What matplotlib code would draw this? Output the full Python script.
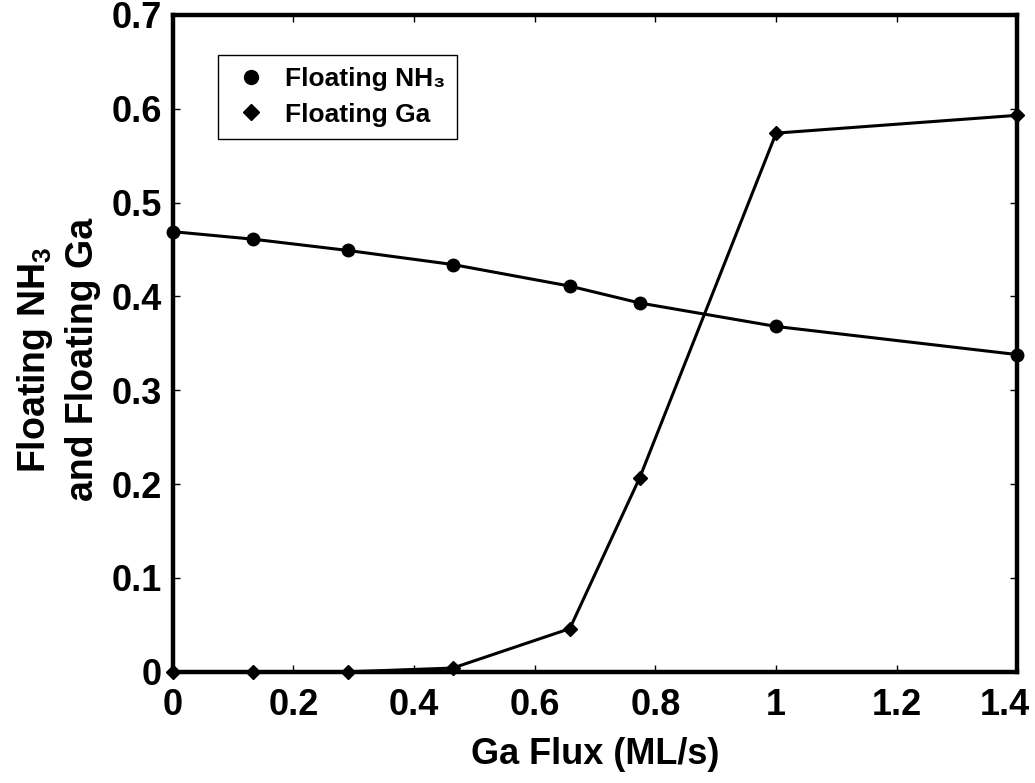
import matplotlib.pyplot as plt
from matplotlib.lines import Line2D
from matplotlib.transforms import ScaledTranslation

plt.rcParams['font.family'] = ['Liberation Sans', 'DejaVu Sans']
plt.rcParams['font.weight'] = 'bold'
plt.rcParams['mathtext.default'] = 'regular'

ga_flux = [0, 0.133, 0.29, 0.464, 0.658, 0.774, 1.0, 1.4]
floating_nh3 = [0.469, 0.461, 0.449, 0.434, 0.411, 0.393, 0.368, 0.338]
floating_ga = [0.0, 0.0, 0.0, 0.004, 0.046, 0.207, 0.574, 0.593]
x_ticks = [0, 0.2, 0.4, 0.6, 0.8, 1, 1.2, 1.4]
x_tick_labels = ['0', '0.2', '0.4', '0.6', '0.8', '1', '1.2', '1.4']
y_ticks = [0, 0.1, 0.2, 0.3, 0.4, 0.5, 0.6, 0.7]
y_tick_labels = ['0', '0.1', '0.2', '0.3', '0.4', '0.5', '0.6', '0.7']

fig = plt.figure(figsize=(10.35, 7.83), dpi=100)
ax = fig.add_axes([0.167, 0.142, 0.816, 0.839])

ax.plot(ga_flux, floating_nh3, color='black', lw=2.2, marker='o', ms=9, clip_on=False, zorder=5)
ax.plot(ga_flux, floating_ga, color='black', lw=2.2, marker='D', ms=7, clip_on=False, zorder=5)

ax.set_xlim(0, 1.4)
ax.set_ylim(0, 0.7)
ax.set_xticks(x_ticks)
ax.set_xticklabels(x_tick_labels)
ax.set_yticks(y_ticks)
ax.set_yticklabels(y_tick_labels)
ax.tick_params(direction='in', length=5, width=1, labelsize=26, top=True, right=True)
ax.tick_params(axis='x', pad=12)
ax.tick_params(axis='y', pad=8)
for s in ax.spines.values():
    s.set_linewidth(3.2)

# keep the last x label inside the figure
last = ax.get_xticklabels()[-1]
last.set_transform(last.get_transform() + ScaledTranslation(-13 / 100, 0, fig.dpi_scale_trans))

ax.set_xlabel('Ga Flux (ML/s)', fontsize=26, fontweight='bold', labelpad=10)
ax.text(-0.136, 0.475, 'Floating NH$_3$\nand Floating Ga', transform=ax.transAxes,
        rotation=90, ha='center', va='center', multialignment='center',
        fontsize=27, fontweight='bold', linespacing=1.35)

handles = [
    Line2D([], [], color='black', marker='o', ls='none', ms=10),
    Line2D([], [], color='black', marker='D', ls='none', ms=8),
]
leg = ax.legend(handles, ['Floating NH\u2083', 'Floating Ga'], loc='upper left',
                bbox_to_anchor=(0.053, 0.939), borderaxespad=0, fancybox=False,
                framealpha=1, edgecolor='black', prop={'size': 19, 'weight': 'bold'},
                handletextpad=0.5, handlelength=1.6, borderpad=0.45, labelspacing=0.45)
leg.get_frame().set_linewidth(1)

fig.savefig('out.png', dpi=100)
